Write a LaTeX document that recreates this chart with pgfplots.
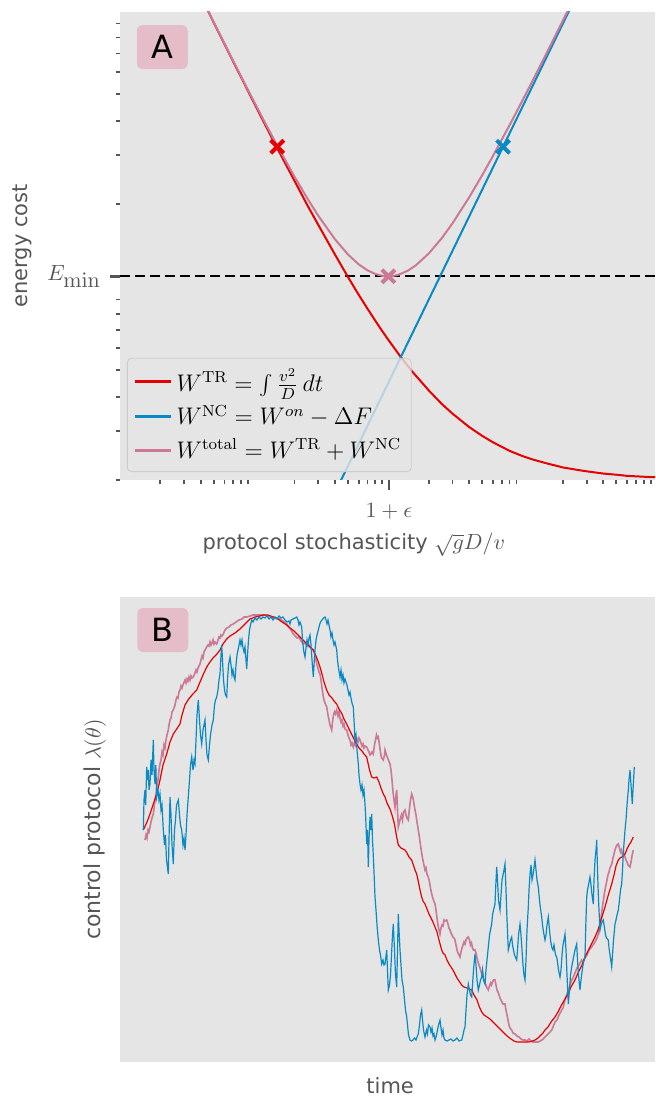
\documentclass[border=0pt]{standalone}
\usepackage[no-math]{fontspec}
\setmainfont{DejaVu Sans}
\usepackage{pgfplots}
\pgfplotsset{compat=1.18}

\definecolor{bg}{RGB}{229,229,229}
\definecolor{redc}{RGB}{230,0,0}
\definecolor{bluec}{RGB}{10,138,196}
\definecolor{pinkc}{RGB}{204,121,150}
\definecolor{boxpink}{RGB}{229,189,200}
\definecolor{tickgray}{RGB}{85,85,85}
\definecolor{legframe}{RGB}{204,204,204}

\pgfplotstableread{
x y
0.04 112.75
0.05 90.6
0.06 75.8
0.08 57.4
0.1 46.3
0.12 38.9
0.15 31.5
0.2 24.2
0.25 19.7
0.3 16.8
0.4 13.1
0.5 10.86
0.6 9.38
0.7 8.33
0.8 7.54
0.9 6.92
1.0 6.43
1.2 5.69
1.5 4.95
2 4.22
2.5 3.77
3 3.48
4 3.11
5 2.89
6 2.74
8 2.55
10 2.44
12 2.37
15 2.30
20 2.22
25 2.18
30 2.15
40 2.11
50 2.09
60 2.07
80 2.055
97 2.046
}\trcost

\pgfplotstableread{
x y
0.3 1.35
0.5 2.25
1 4.5
2 9
5 22.5
10 45
20 90
25 112.5
}\nccost

\pgfplotstableread{
x y
0.04 112.9
0.05 90.8
0.06 76.1
0.08 57.7
0.1 46.75
0.12 39.46
0.15 32.2
0.2 25.05
0.25 20.85
0.3 18.12
0.4 14.88
0.5 13.11
0.6 12.08
0.7 11.48
0.8 11.14
0.9 10.97
1.0 10.93
1.1 10.98
1.2 11.09
1.4 11.46
1.6 11.97
2 13.22
2.5 15.02
3 16.98
4 21.11
5 25.39
6 29.74
8 38.55
10 47.44
12 56.37
15 69.8
20 92.2
25 114.7
}\totcost

\pgfplotstableread{
x y
143.3 830
147 822
150 814
153 805
156.7 794
160 780
163 765
166.7 754
170 742
173.3 734
176 730
180 724
182 715
185 705
188 700
192 695
196.7 690
200 682
203 675
206.7 667
210 662
213 658
217 654
220 650
223 644
226.7 639
230 636
235 633
240 629
245 624
250 619
255 617
260 616
263.3 615
268 615
273.3 617
278 619
282 622
286.7 625
290 628
294 631
297 634
300 637
304 641
308 645
311 648
313.3 650
316 656
318 661
320 667
322 674
324 682
326.7 690
329 695
332 698
334 701
336.7 704
339 709
342 714
344 719
346.7 724
349 729
352 735
354 739
356.7 744
359 748
362 751
364 754
366.7 757
368 763
369.5 770
371.7 777
374 778
376.7 777
379 782
381 788
383.3 794
385 797
387 803
390 809
392 815
394 822
395 827
396.5 836
398.3 845
401 848
403 849
405 850
407 853
409 857
411.7 860
413 864
415 870
416.7 874
418 880
420 890
421.7 897
423 901
425 904
427 909
429 914
431 918
433 922
435 927
437 932
439 940
441.7 950
443 953
445 955
447 960
449 964
451 967
453 970
455 974
457 978
459 981
461.7 985
464 987
467 988
469 989
471.7 990
474 995
477 1000
479 1006
481.7 1012
484 1015
487 1017
490 1019
492 1021
495 1024
498 1027
501 1030
504 1033
506 1035
508.3 1037
511 1039
514 1041
517 1042
521.7 1042
525 1042
528 1042
531 1041.5
535 1040
538 1038
541 1035
543 1033
545 1030
548 1027
551 1022
555 1017
558 1012
561 1006
565 999
568 994
571 987
575 980
578 973
582 965
585 957
588 951
591 945
595 937
598 930
601 920
605 907
608 896
611.7 884
614 875
616 866
618.3 860
620 858
622 857
625 854
627 849
629 845
631 842
633.3 837
}\trpath

\pgfplotstableread{
x y
145 840
146 835
147 838
148 830
149 832
150 827
151 822
152 818
153.3 814
155 800
156 795
157 785
158 780
159 770
160 764
161 760
162 752
163 755
164 745
165 748
166 740
167 735
168.3 730
169 725
170 720
171 718
172 712
173.3 710
175 705
176 700
177 697
178 698
179 692
180 690
181 686
182 688
183.3 684
185 680
186 683
187 679
188 681
189 677
190 680
191 676
192 678
193.3 677
195 673
196 670
197 672
198 668
199 666
200 664
201 660
202 656
203 658
204 652
205 650
206.7 647
208 645
209 646
210 642
211 645
212 643
213 640
214 644
215 642
216.7 644
218 640
219 637
220 638
221 635
222 636
223.3 634
225 630
227 628
229 627
231 625
233.3 624
236 622
239 620
242 619
244 617
246.7 617
250 616
253 615
256 615
260 615
264 615
268 616
272 617
276 618
280 619
283 621
286.7 624
289 627
291 630
293.3 634
295 636
297 638
299 637
301 641
303.3 644
305 643
307 646
309 645
311 648
313.3 650
315 655
316 660
317 665
318 668
319 672
320 674
321 680
322 688
323 695
324 700
325 703
326.7 707
328 715
329 720
330 725
331.7 730
332.5 722
333.5 715
334.5 712
335.5 714
336.7 710
338 716
339 712
340 718
341 722
342 720
343 726
344 724
345 729
346.7 730
348 735
349 738
350 740
351 745
352 743
353.3 747
354.5 742
355.5 745
357 739
358 742
359 738
360 740
361 743
362 746
363 744
364 748
365 746
366.7 747
368 750
369 752
370 755
371 754
372 752
373.3 754
374.5 745
375.5 740
376.5 735
377.5 738
378.3 737
379.5 745
380.5 752
381.5 758
383.3 760
384.5 755
385 750
386.5 755
388 759
390 764
391 770
392 780
393 792
394 800
395 807
396 795
396.7 790
397.5 810
398.3 827
399.5 822
400.5 818
401.5 815
402.5 820
403.5 812
405 810
406 815
407 818
408.3 820
409.5 808
410.5 800
411.7 794
413 798
414 804
415 810
416 815
417 822
418.3 830
419.5 838
420.5 845
421.5 852
422.5 858
423.5 863
425 870
426 868
427 874
428.3 877
429.5 882
430.5 888
431.5 893
432.5 897
433.5 900
435 904
436 910
437 918
438 925
439 930
440 934
441 928
442 925
443 926
444 920
445 921
446.7 920
448 924
449 928
450 930
451 933
452 935
453 937
454 938
455 940
456 945
457 950
458 953
459 955
460 957
461 952
462 948
463 945
464 942
465 944
466 940
467 938
468.3 937
469.5 940
470.5 945
471.5 943
472.5 948
473.5 950
475 950
476 953
477 958
478 962
479 965
480 968
481.7 974
482.5 972
483.5 978
485 983
486 985
487 988
488.3 990
489.5 986
490.5 983
491.5 985
492.5 982
493.5 980
495 980
496 985
497 990
498 992
499 995
500 998
501 1000
502 1002
503 1004
505 1004
506 1010
507 1015
508 1020
509 1025
510 1028
511.7 1030
513 1033
515 1034
517 1036
519 1037
521 1039
523 1040
525 1040
527 1041
529 1039
531 1041
533 1042
535 1042
538.3 1042
540 1041
542 1040
544 1038
546 1036
548 1034
550 1032
551.7 1030
553 1027
555 1022
557 1020
559 1015
561.7 1010
563 1008
565 1000
567 994
569 988
571.7 980
573 978
575 973
577 968
579 965
581.7 960
583 962
585 958
587 955
589 950
591.7 947
593 945
595 942
597 938
598.3 934
600 925
601 918
602 910
603 903
604 896
605 890
606 885
607 880
608 875
609 872
610 868
611.7 864
613 858
614 854
615 850
616 847
617 845
618.3 844
619.5 848
620.5 852
621.5 850
622.5 855
623.5 853
625 857
626 860
627 862
628 865
629 866
630 867
631 862
632 856
633.3 850
}\totpath

\pgfplotstableread{
x y
143.3 830
144 800
145 790
145.7 805
146.7 767
147.5 780
148.3 770
149 790
150 784
151 760
152 775
153.3 740
154 770
155 784
155.8 765
156.7 797
158 790
159 800
160 794
161 810
162 805
163.3 830
164.5 845
165.5 835
166.5 860
168.3 874
169 840
170 797
171 815
172 845
173.3 864
174.5 830
175.5 820
176.5 805
178.3 800
179.5 815
180.5 825
181.7 830
183 845
184 838
185 850
186 835
187 815
188.3 797
189.5 780
190.5 765
191.7 757
193 770
194 760
195 764
196 740
197 715
198.3 700
199.5 720
200.5 735
201.7 744
203 730
204 725
205 720
206 740
207 755
208.3 760
209.5 745
210.5 735
212 725
213.3 720
214.5 705
215.5 700
216.7 697
218 690
219 680
220 674
221 655
221.7 645
222.5 660
223.5 680
224.5 690
225.5 695
226.7 697
227.5 680
228.5 665
230 657
231 665
232 675
233 670
234 677
235 680
236 665
237 655
238 650
240 640
241 645
242 640
243 648
244 652
245 647
246 660
246.7 669
247.5 655
248.5 640
249.5 630
250.5 625
251.7 620
253 622
255 618
257 620
259 617
261 619
263 617
265 618
267 616
269 619
271 617
273 620
275 617
277 619
279 616
281 618
283 617
285 620
287 622
289 621
290 624
291 620
293 619
295 618
296.7 617
298 620
299 625
300 622
301.7 627
302.5 640
303.5 650
305 657
306 648
307 640
308 645
309 638
310 635
311 645
312 660
313.3 677
314 665
315 650
316 640
317 635
318.3 630
319.5 625
320.5 622
322 620
323.5 618
325 617
326 620
327 624
328 620
329 625
330 630
331 637
332 633
333 640
334 645
335 642
336.7 650
337.5 660
338.5 668
340 677
341 670
342 680
343 675
344 683
345 679
346.7 684
348 690
349 695
350 692
351 698
352 703
353.3 707
354 720
355 740
356 735
357 750
358.3 764
359 775
360 784
361 790
362 785
363 795
364 790
365 804
365.8 820
366.7 844
367.5 830
368.3 867
369 840
370 817
371 830
371.7 814
372.5 840
373.5 860
375 897
376 910
377 925
378.3 940
379.5 950
380.5 955
381.7 964
383 960
384 965
385 964
386.7 950
387.5 970
388.3 990
389.5 985
390.5 975
391.5 955
392.5 935
393.3 924
394.5 950
395.5 975
396.7 987
397.5 950
398.3 914
399 930
400 950
401 965
402 980
403.3 987
404.5 1000
405.5 1010
406.7 1017
407.5 1025
408.5 1035
410 1040
411.5 1041
413 1040
414.5 1038
416 1040
417.3 1036
418.3 1034
419.5 1025
420.5 1015
421.7 1010
422.5 1020
423.5 1030
425 1037
426.5 1030
427.5 1034
428.5 1025
430 1027
431 1032
432 1028
433 1036
434 1034
435 1040
436.5 1035
437.5 1030
438.5 1025
440 1020
441 1028
442 1035
443 1030
444 1038
445 1040
447 1041
449 1040
451 1039
453 1041
455 1040
457 1038
459 1041
461.7 1040
463 1035
464 1030
465 1027
466 1010
467 995
468.3 984
469.5 990
470.5 995
471.7 997
472.5 985
473.5 970
475 954
476 965
477 980
478.3 990
479.5 985
480.5 980
481.7 977
482.5 970
483.5 980
485 984
486 970
487 960
488.3 947
489.5 935
490.5 930
491.7 924
492.5 915
493.5 910
495 904
495.8 885
496.7 867
497.5 880
498.5 900
500 910
501 895
502 880
503 875
504 870
505 864
506 890
507 920
508.3 950
509.5 945
510.5 940
511.7 937
512.5 945
513.5 950
514.5 955
516.7 960
517.5 950
518.5 935
520 924
521 935
522 950
523 965
524 975
525 980
526 960
527 930
528.3 907
529 890
530 874
531 865
532 880
533 875
534 868
535 860
536 870
537 880
538.3 887
539 895
540 905
541.7 917
542.5 925
543.5 932
545 940
546 935
547 925
548.3 917
549.5 930
550.5 940
551.7 947
553 950
554 945
555.5 955
556.7 957
557.5 962
558.5 970
560 977
561 970
562 955
563 945
564 940
565 934
566 950
567 975
568.3 1004
569.5 990
570.5 975
571.7 967
573 960
574 955
575 950
576.7 944
577.5 960
578.5 975
580 990
581 980
582 972
583 965
584 960
585 957
585.8 925
586.7 897
587.5 890
588.5 885
590 877
591 885
592 895
593.3 904
594 880
595 860
596 850
596.7 840
597.5 870
598.5 900
600 930
601 925
602 922
603.3 920
604.5 928
605.5 935
606.5 938
608.3 940
609 948
610 955
611 962
611.7 967
612.5 955
613.5 940
615 924
616 920
617 915
618.3 910
619.5 900
620.5 890
621.7 884
622.5 870
623.5 850
625 830
626 820
627 805
628.3 790
629 780
630 770
631 785
632.3 804
633 790
634.3 767
}\ncpath

\begin{document}
\begin{tikzpicture}
\useasboundingbox (0,0) rectangle (327.5pt,549pt);

\begin{axis}[
at={(60pt,309pt)}, anchor=south west,
scale only axis, width=267.5pt, height=234pt,
xmode=log, ymode=log,
xmin=0.01, xmax=97, ymin=2, ymax=99,
axis background/.style={fill=bg},
axis line style={draw=none},
xtick={1.01}, xticklabels={$1+\epsilon$},
ytick={10.93}, yticklabels={$E_{\textstyle\mathrm{min}}$},
minor xtick={0.02,0.03,0.04,0.05,0.06,0.07,0.08,0.09,0.2,0.3,0.4,0.5,0.6,0.7,0.8,0.9,2,3,4,5,6,7,8,9,20,30,40,50,60,70,80,90},
minor ytick={2.001,3,4,5,6,7,8,9,20,30,40,50,60,70,80,90},
tickpos=left, tick align=outside,
major tick length=5pt, minor tick length=2.2pt,
major tick style={line width=1.4pt, color=tickgray},
minor tick style={line width=0.9pt, color=tickgray},
ticklabel style={color=tickgray, font=\fontsize{11}{13}\selectfont},
xticklabel style={yshift=-3pt},
yticklabel style={xshift=-1pt},
xlabel={protocol stochasticity $\sqrt{g}D/v$},
ylabel={energy cost},
every axis x label/.style={at={(axis description cs:0.437,0)}, anchor=center, yshift=-32.5pt, color=tickgray, font=\fontsize{10.5}{12}\selectfont},
every axis y label/.style={at={(axis description cs:0,0.5)}, xshift=-49pt, rotate=90, anchor=center, color=tickgray, font=\fontsize{10.5}{12}\selectfont},
legend style={at={(0.013,0.017)}, anchor=south west, fill=bg, fill opacity=0.8, text opacity=1, draw=legframe, draw opacity=1, rounded corners=2pt, font=\fontsize{12}{14}\selectfont, row sep=1.5pt, inner sep=3pt},
legend cell align=left,
legend image code/.code={\draw[#1, line width=1.6pt] (0pt,0pt) -- (18pt,0pt);},
]
\addplot[forget plot, black, line width=1pt, dash pattern=on 5pt off 2.5pt] coordinates {(0.01,10.93) (97,10.93)};
\addplot[redc, line width=1pt] table {\trcost};
\addlegendentry{\rule[-4.5pt]{0pt}{13.5pt}$W^{\mathrm{TR}} = \int \frac{v^2}{D}\,dt$}
\addplot[bluec, line width=1pt] table {\nccost};
\addlegendentry{\rule[-4.5pt]{0pt}{13.5pt}$W^{\mathrm{NC}} = W^{on} - \Delta F$}
\addplot[pinkc, line width=1pt] table {\totcost};
\addlegendentry{\rule[-4.5pt]{0pt}{13.5pt}$W^{\mathrm{total}} = W^{\mathrm{TR}} + W^{\mathrm{NC}}$}
\addplot[forget plot, only marks, mark=x, mark size=4.6pt, line width=2pt, redc] coordinates {(0.1486,32.2)};
\addplot[forget plot, only marks, mark=x, mark size=4.6pt, line width=2pt, bluec] coordinates {(7.16,32.2)};
\addplot[forget plot, only marks, mark=x, mark size=4.6pt, line width=2pt, pinkc] coordinates {(1.0,10.93)};
\node[fill=boxpink, rounded corners=3pt, minimum width=25.5pt, minimum height=22pt, inner sep=0pt, font=\fontsize{16}{18}\selectfont] at (rel axis cs:0.079,0.925) {A};
\end{axis}

\begin{axis}[
at={(60pt,18pt)}, anchor=south west,
scale only axis, width=267.5pt, height=232.5pt,
xmin=120, xmax=655, ymin=597, ymax=1062, y dir=reverse,
axis background/.style={fill=bg},
axis line style={draw=none},
xtick=\empty, ytick=\empty,
xlabel={time},
ylabel={control protocol $\lambda(\theta)$},
every axis x label/.style={at={(axis description cs:0.505,0)}, anchor=center, yshift=-12pt, color=tickgray, font=\fontsize{10.5}{12}\selectfont},
every axis y label/.style={at={(axis description cs:0,0.5)}, xshift=-12.5pt, rotate=90, anchor=center, color=tickgray, font=\fontsize{11}{13}\selectfont},
]
\addplot[pinkc, line width=0.8pt] table {\totpath};
\addplot[redc, line width=0.6pt] table {\trpath};
\addplot[bluec, line width=0.6pt] table {\ncpath};
\node[fill=boxpink, rounded corners=3pt, minimum width=25.5pt, minimum height=22pt, inner sep=0pt, font=\fontsize{16}{18}\selectfont] at (rel axis cs:0.080,0.929) {B};
\end{axis}
\end{tikzpicture}
\end{document}
